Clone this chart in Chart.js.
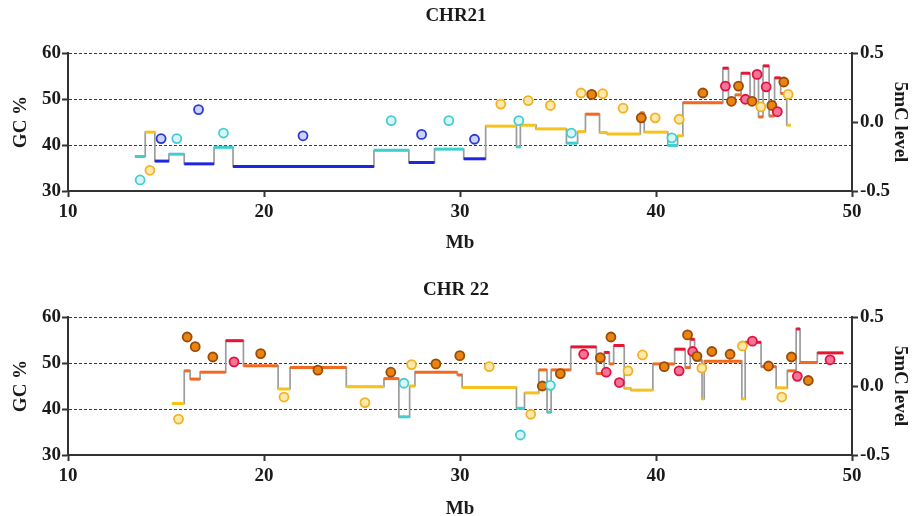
<!DOCTYPE html>
<html><head><meta charset="utf-8">
<script src="https://cdn.jsdelivr.net/npm/chart.js@4.4.1/dist/chart.umd.min.js"></script>
<style>
html,body{margin:0;padding:0;background:#fff;overflow:hidden;width:912px;height:516px;}
.wrap{position:absolute;left:0;width:912px;height:258px;}
#w1{top:0}
#w2{top:264px}
</style></head><body>
<div class="wrap" id="w1"><canvas id="c1" width="912" height="258"></canvas></div>
<div class="wrap" id="w2"><canvas id="c2" width="912" height="258"></canvas></div>
<script>
// ---------- data ----------
const xTicks = [10, 20, 30, 40, 50];
const gcTicks = [30, 40, 50, 60];
const mcTicks = [-0.5, 0, 0.5];

// CHR21 GC% step segments: edges (Mb) and GC value per bin
const chr21Edges = [13.41, 13.94, 14.43, 15.15, 15.93, 17.45, 18.42, 25.61, 27.39, 28.70, 30.19, 31.31,
  32.88, 33.08, 33.88, 35.43, 36.00, 36.40, 37.12, 37.50, 39.20, 39.40, 40.60, 41.10, 41.37,
  43.41, 43.70, 44.04, 44.34, 44.80, 45.02, 45.23, 45.46, 45.77, 46.05, 46.36, 46.67, 46.88];
const chr21GC = [37.5, 42.8, 36.5, 38.0, 35.9, 39.5, 35.3, 38.85, 36.2, 39.1, 37.0,
  44.1, 39.6, 44.3, 43.5, 40.4, 42.9, 46.7, 42.7, 42.4, 47.0, 42.8, 39.9, 42.0, 49.2,
  56.7, 49.9, 50.9, 55.6, 50.0, 55.5, 46.1, 57.2, 46.3, 54.6, 51.2, 44.3];
// CHR21 5mC points
const chr21DotMb = [13.68, 14.18, 14.75, 15.55, 16.66, 17.93, 21.99, 26.49, 28.04, 29.43, 30.74, 32.08,
  33.00, 33.48, 34.61, 35.68, 36.18, 36.72, 37.28, 38.32, 39.25, 39.96, 40.81, 41.18, 42.39,
  43.54, 43.85, 44.21, 44.56, 44.90, 45.16, 45.35, 45.62, 45.91, 46.19, 46.52, 46.74];
const chr21Dot5mC = [-0.42, -0.35, -0.12, -0.12, 0.09, -0.08, -0.10, 0.01, -0.09, 0.01, -0.125, 0.13,
  0.01, 0.155, 0.12, -0.08, 0.21, 0.20, 0.205, 0.10, 0.03, 0.03, -0.115, 0.02, 0.21,
  0.26, 0.15, 0.26, 0.165, 0.15, 0.345, 0.11, 0.255, 0.12, 0.075, 0.29, 0.20];
const chr21DotClass = ['c','y','b','c','b','c','b','c','b','c','b','y',
  'c','y','y','c','y','o','y','y','o','y','c','y','o',
  'p','o','o','p','o','p','y','p','o','p','o','y'];

// CHR22 GC% step segments
const chr22Edges = [15.30, 15.93, 16.23, 16.74, 18.05, 18.95, 20.72, 21.33, 24.20, 26.12, 26.88, 27.43,
  27.70, 29.86, 30.11, 32.88, 33.29, 34.02, 34.44, 34.65, 35.65, 36.96, 37.36, 37.62, 37.84,
  38.38, 38.72, 39.84, 40.95, 41.49, 41.75, 41.97, 42.35, 42.46, 44.38, 44.55, 45.36, 46.13,
  46.70, 47.15, 47.35, 48.23, 49.56];
const chr22GC = [41.2, 48.3, 46.5, 48.0, 54.85, 49.4, 44.35, 49.0, 44.85, 46.6, 38.3, 45.0,
  48.0, 47.4, 44.7, 40.15, 43.5, 48.5, 39.3, 48.5, 53.5, 47.7, 52.3, 49.8, 53.8,
  44.5, 44.1, 49.8, 53.0, 49.0, 55.15, 50.6, 42.2, 50.4, 42.2, 54.5, 49.2, 44.6,
  48.3, 57.4, 50.1, 52.2];
// CHR22 5mC points
const chr22DotMb = [15.64, 16.08, 16.49, 17.39, 18.47, 19.83, 21.02, 22.75, 25.15, 26.47, 27.14, 27.53,
  28.77, 29.99, 31.49, 33.08, 33.61, 34.20, 34.61, 35.12, 36.31, 37.16, 37.46, 37.70, 38.13,
  38.57, 39.31, 40.42, 41.18, 41.61, 41.87, 42.09, 42.34, 42.85, 43.78, 44.41, 44.92, 45.74,
  46.42, 46.91, 47.21, 47.77, 48.88];
const chr22Dot5mC = [-0.24, 0.355, 0.285, 0.21, 0.175, 0.235, -0.08, 0.115, -0.12, 0.10, 0.02, 0.155,
  0.16, 0.22, 0.14, -0.355, -0.205, 0.0, 0.005, 0.09, 0.23, 0.205, 0.10, 0.355, 0.025,
  0.11, 0.225, 0.14, 0.11, 0.37, 0.25, 0.215, 0.13, 0.25, 0.23, 0.29, 0.325, 0.145,
  -0.08, 0.21, 0.07, 0.04, 0.19];
const chr22DotClass = ['y','o','o','o','p','o','y','o','y','o','c','y',
  'o','o','y','c','y','o','c','o','p','o','p','o','p',
  'y','y','o','p','o','p','o','y','o','o','y','p','o',
  'y','o','p','o','p'];

// ---------- styles ----------
const FONT = "'Liberation Serif', 'Times New Roman', serif";
const INK = '#1a1a1a';
const AXIS = '#333333';
const GC_COLORS = {b: '#1f26df', c: '#3fcfd0', y: '#f7c21c', o: '#f26a1f', r: '#e91430'};
const DOT_STYLES = {
  b: {fill: '#cdd3f6', stroke: '#2b3bd2'},
  c: {fill: '#daf6f6', stroke: '#43cfd2'},
  y: {fill: '#fde9ab', stroke: '#f2b224'},
  o: {fill: '#e9850f', stroke: '#9a4a08'},
  p: {fill: '#f27497', stroke: '#e2123f'}
};
function gcColor(v) {
  if (v < 37.3) return GC_COLORS.b;
  if (v < 41) return GC_COLORS.c;
  if (v < 45.8) return GC_COLORS.y;
  if (v < 52) return GC_COLORS.o;
  return GC_COLORS.r;
}

function buildChart(canvasId, title, edges, gc, dotMb, dot5mC, dotClass, layout) {
  const n = gc.length;
  const stepPts = [];
  for (let i = 0; i < n; i++) stepPts.push({x: edges[i], y: gc[i]});
  stepPts.push({x: edges[n], y: gc[n - 1]});

  const segPts = [];
  for (let i = 0; i < n; i++) {
    segPts.push({x: edges[i], y: gc[i]});
    segPts.push({x: edges[i + 1], y: gc[i]});
    segPts.push({x: edges[i + 1], y: null});
  }

  const dots = dotMb.map((m, i) => ({x: m, y: dot5mC[i]}));

  const tickFont = {family: FONT, size: 19, weight: 'bold'};
  const titleFont = {family: FONT, size: 19, weight: 'bold'};

  return new Chart(document.getElementById(canvasId), {
    type: 'line',
    data: {
      datasets: [
        {
          data: dots, yAxisID: 'y2', showLine: false, order: 0,
          pointRadius: 4.5, pointBorderWidth: 1.8,
          pointBackgroundColor: dotClass.map(c => DOT_STYLES[c].fill),
          pointBorderColor: dotClass.map(c => DOT_STYLES[c].stroke)
        },
        {
          data: segPts, yAxisID: 'y', order: 1, spanGaps: false,
          borderWidth: 3, pointRadius: 0, borderCapStyle: 'butt',
          segment: {borderColor: ctx => gcColor(ctx.p0.parsed.y)}
        },
        {
          data: stepPts, yAxisID: 'y', order: 2, stepped: true,
          borderColor: '#9c9c9c', borderWidth: 1.7, pointRadius: 0
        }
      ]
    },
    options: {
      responsive: false, animation: false, events: [],
      layout: {padding: 0},
      plugins: {
        legend: {display: false}, tooltip: {enabled: false},
        title: {display: true, text: title, color: INK,
          font: {family: FONT, size: 19, weight: 'bold'},
          padding: {top: layout.titleTop, bottom: layout.titleBottom}}
      },
      scales: {
        x: {
          type: 'linear', min: 10, max: 50,
          afterBuildTicks: s => { s.ticks = xTicks.map(v => ({value: v})); },
          afterFit: s => { s.height = 67; },
          ticks: {font: tickFont, color: INK, padding: 4, maxRotation: 0, autoSkip: false},
          grid: {drawOnChartArea: false, drawTicks: true, tickLength: 6, tickColor: AXIS, tickWidth: 2},
          border: {display: true, color: AXIS, width: 2},
          title: {display: true, text: 'Mb', color: INK, font: titleFont, padding: {top: 0, bottom: layout.mbPad}}
        },
        y: {
          position: 'left', min: 30, max: 60,
          afterBuildTicks: s => { s.ticks = gcTicks.map(v => ({value: v})); },
          afterFit: s => { s.width = 68; },
          ticks: {font: tickFont, color: INK, padding: 1},
          grid: {
            color: c => (c.tick && c.tick.value === 30) ? 'rgba(0,0,0,0)' : '#3a3a3a',
            lineWidth: 1, drawTicks: true, tickLength: 6, tickColor: AXIS, tickWidth: 2, tickBorderDash: []
          },
          border: {display: true, color: AXIS, width: 2, dash: [3, 2]},
          title: {display: true, text: 'GC %', color: INK, font: titleFont, padding: {top: 10, bottom: 0}}
        },
        y2: {
          position: 'right', min: -0.5, max: 0.5,
          afterBuildTicks: s => { s.ticks = mcTicks.map(v => ({value: v})); },
          afterFit: s => { s.width = 60; },
          ticks: {font: tickFont, color: INK, padding: 2, callback: v => Number(v).toFixed(1)},
          grid: {drawOnChartArea: false, drawTicks: true, tickLength: 6, tickColor: AXIS, tickWidth: 2},
          border: {display: true, color: AXIS, width: 2},
          title: {display: true, text: '5mC level', color: INK, font: titleFont, padding: {top: 1, bottom: 0}}
        }
      }
    }
  });
}

buildChart('c1', 'CHR21', chr21Edges, chr21GC, chr21DotMb, chr21Dot5mC, chr21DotClass,
  {titleTop: 4.6, titleBottom: 25.6, mbPad: 3.6});
buildChart('c2', 'CHR 22', chr22Edges, chr22GC, chr22DotMb, chr22Dot5mC, chr22DotClass,
  {titleTop: 14.6, titleBottom: 15.6, mbPad: 1.6});
</script>
</body></html>
